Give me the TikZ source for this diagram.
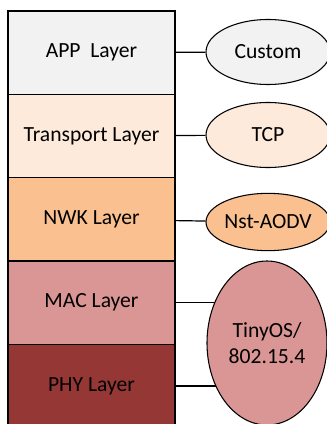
\documentclass[tikz,border=0pt]{standalone}
\usepackage{fontspec}
\setmainfont{Carlito}
\usetikzlibrary{positioning, shapes.geometric, backgrounds}
\definecolor{appfill}{HTML}{F2F2F2}
\definecolor{transfill}{HTML}{FDEADA}
\definecolor{nwkfill}{HTML}{FAC090}
\definecolor{macfill}{HTML}{D99694}
\definecolor{phyfill}{HTML}{953735}
\tikzset{
  layer/.style={draw, line width=1.1pt, outer sep=0pt, minimum width=125.25pt,
    minimum height=62.5pt, font=\fontsize{16.2}{19}\selectfont}, % one band of
  % the stack
  proto/.style={draw, ellipse, line width=0.8pt, inner sep=0pt,
    minimum width=93pt, minimum height=48.75pt, align=center,
    font=\fontsize{16.2}{19}\selectfont}, % protocol used on a layer
  link/.style={line width=0.9pt},
}

\begin{document}
\begin{tikzpicture}[x=0.75pt, y=-0.75pt]
    \useasboundingbox (0,0) rectangle (327,424);

    \node[layer, fill=appfill] (app_layer) at (91.5,52.65) {APP\ \ Layer};
    \node[layer, fill=transfill, below=0pt of app_layer] (trans_layer)
    {Transport Layer};
    \node[layer, fill=nwkfill, below=0pt of trans_layer] (nwk_layer)
    {NWK Layer};
    \node[layer, fill=macfill, below=0pt of nwk_layer] (mac_layer)
    {MAC Layer};
    \node[layer, fill=phyfill, below=0pt of mac_layer] (phy_layer)
    {PHY Layer};

    \node[proto, fill=appfill] (custom) at (268,52) {Custom};
    \node[proto, fill=transfill] (tcp) at (268,135) {TCP};
    \node[proto, fill=nwkfill, minimum height=43pt] (aodv) at (268,222)
    {Nst-AODV};
    \node[proto, fill=macfill, minimum width=90pt, minimum height=123pt]
    (tinyos) at (267,343) {TinyOS/\\802.15.4};

    % links go under the ellipses
    \begin{scope}[on background layer]
      \draw[link] (app_layer) -- (custom);
      \draw[link] (trans_layer) -- (tcp);
      \draw[link] (nwk_layer) -- (aodv);
      \draw[link] (mac_layer.east) -- (mac_layer.east -| tinyos.center);
      \draw[link] (phy_layer.east) -- (phy_layer.east -| tinyos.center);
    \end{scope}
  \end{tikzpicture}
\end{document}
